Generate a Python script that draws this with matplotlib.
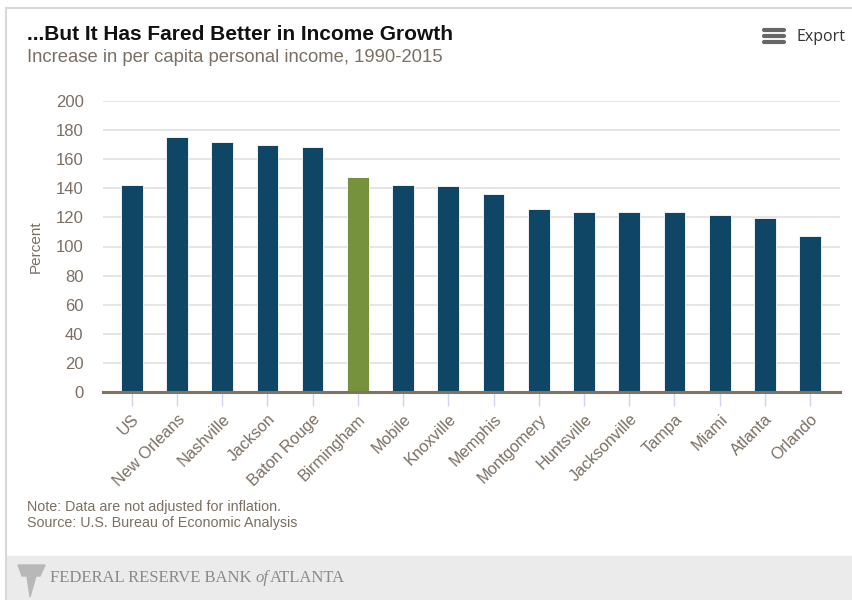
import matplotlib.pyplot as plt
from matplotlib.patches import Rectangle, Polygon
from matplotlib.lines import Line2D

# datos
ciudades = ["US", "New Orleans", "Nashville", "Jackson", "Baton Rouge", "Birmingham",
            "Mobile", "Knoxville", "Memphis", "Montgomery", "Huntsville", "Jacksonville",
            "Tampa", "Miami", "Atlanta", "Orlando"]
valores = [142, 175, 172, 169.5, 168.5, 147.5, 142, 141.5, 136, 126, 124, 123.5,
           123.5, 121.5, 119.5, 107]
resaltado = "Birmingham"
yticks = [0, 20, 40, 60, 80, 100, 120, 140, 160, 180, 200]

azul = "#0f4665"
verde = "#76923c"
gris_texto = "#7b6f63"

plt.rcParams["font.family"] = ["Liberation Sans", "DejaVu Sans"]

fig = plt.figure(figsize=(8.53, 6.0), dpi=100)
W, H = 853, 600

def fx(px):
    return px / W

def fy(py):
    return 1 - py / H

# marco y pie
fig.add_artist(Line2D([fx(6), fx(6)], [fy(8), 0], color="#d8d8d8", lw=1.5))
fig.add_artist(Line2D([fx(6), 1], [fy(8), fy(8)], color="#d8d8d8", lw=1.5))
fig.add_artist(Rectangle((fx(7), 0), 1, fy(556), color="#ebebeb", zorder=0))

ax = fig.add_axes([fx(103), fy(392), fx(840) - fx(103), fy(101) - fy(392)])

colores = [verde if c == resaltado else azul for c in ciudades]
x = list(range(len(ciudades)))
ax.bar(x, valores, width=0.48, color=colores, edgecolor="white", linewidth=0.6, zorder=3)

ax.set_xlim(-0.635, 15.66)
ax.set_ylim(0, 200)
ax.set_yticks(yticks)
ax.set_xticks(x)
ax.set_xticklabels(ciudades, rotation=45, ha="right", rotation_mode="anchor",
                   fontsize=11.7, color=gris_texto)
ax.tick_params(axis="x", length=10, color="#ccd6eb", width=1, pad=4)
ax.tick_params(axis="y", length=0, labelsize=12, labelcolor=gris_texto, pad=14)
ax.grid(axis="y", color="#e0e0e0", lw=1.2, zorder=0)
for s in ["top", "right", "left"]:
    ax.spines[s].set_visible(False)
ax.spines["bottom"].set_color("#7f7363")
ax.spines["bottom"].set_linewidth(2.2)
ax.spines["bottom"].set_zorder(4)
ax.set_ylabel("Percent", fontsize=11, color=gris_texto, labelpad=9)

# textos
fig.text(fx(27), fy(34), "...But It Has Fared Better in Income Growth",
         fontsize=15, fontweight="bold", color="#111111", va="center")
fig.text(fx(27), fy(58), "Increase in per capita personal income, 1990-2015",
         fontsize=13.3, color=gris_texto, va="center")
fig.text(fx(27), fy(507), "Note: Data are not adjusted for inflation.",
         fontsize=10.3, color=gris_texto, va="center")
fig.text(fx(27), fy(523), "Source: U.S. Bureau of Economic Analysis",
         fontsize=10.3, color=gris_texto, va="center")

# boton Export
for yy in [30, 36, 42]:
    fig.add_artist(Line2D([fx(764), fx(784)], [fy(yy), fy(yy)], color="#666666",
                          lw=3, solid_capstyle="round"))
fig.text(fx(797), fy(37), "Export", fontsize=11.5, color="#333333", va="center",
         family=["Open Sans", "DejaVu Sans"])

# logo pie
serif = ["Liberation Serif", "DejaVu Serif"]
fig.text(fx(50), fy(578), "FEDERAL RESERVE BANK", fontsize=12, color="#8a8a8a",
         va="center", family=serif)
fig.text(fx(256), fy(578), "of", fontsize=12, color="#8a8a8a", va="center",
         style="italic", family=serif)
fig.text(fx(270), fy(578), "ATLANTA", fontsize=12, color="#8a8a8a",
         va="center", family=serif)
fig.add_artist(Polygon([(fx(18), fy(565)), (fx(45), fy(565)), (fx(40), fy(576)),
                        (fx(36), fy(576)), (fx(30), fy(597)), (fx(27), fy(576)),
                        (fx(22), fy(576))], closed=True, color="#b8b8b8", zorder=1))

fig.savefig("out.png", dpi=100)
